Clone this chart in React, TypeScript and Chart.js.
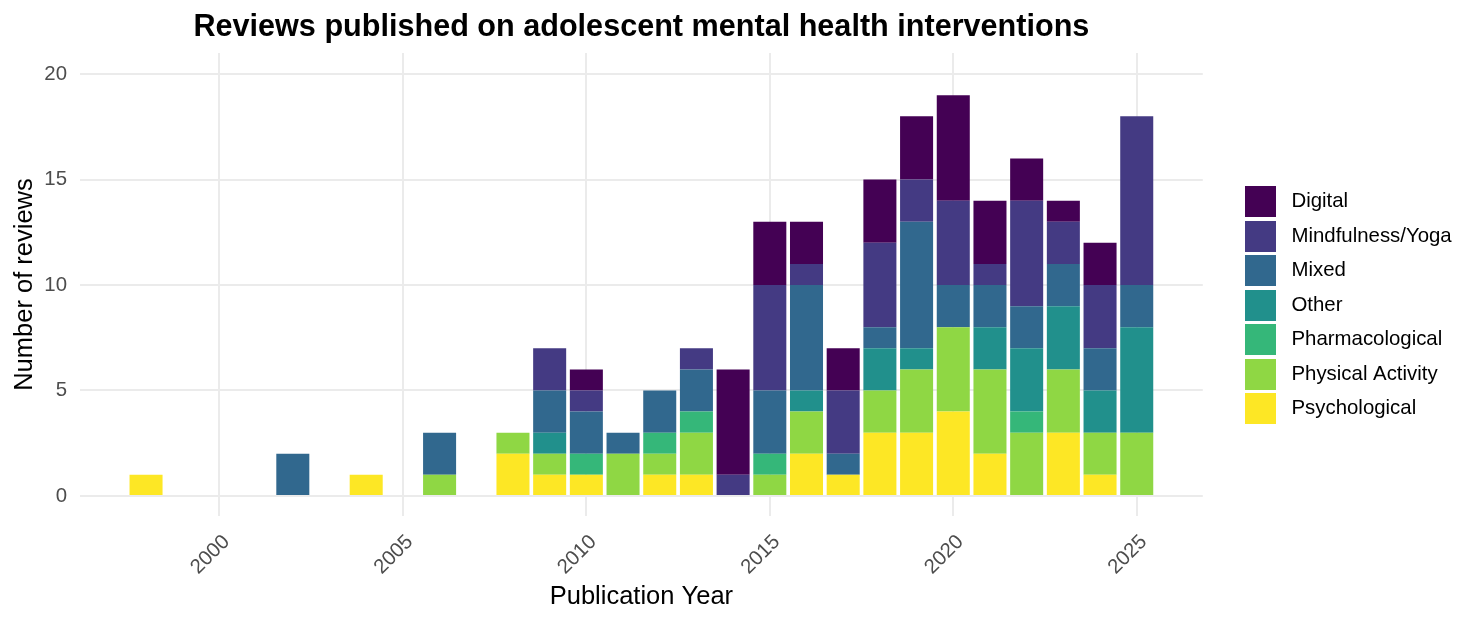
import React, { useEffect, useRef } from "react";
import { Chart, registerables } from "chart.js";

Chart.register(...registerables);

const YEARS = [1998, 2002, 2004, 2006, 2008, 2009, 2010, 2011, 2012, 2013, 2014, 2015, 2016, 2017, 2018, 2019, 2020, 2021, 2022, 2023, 2024, 2025];

const PSYCHOLOGICAL = [1, 0, 1, 0, 2, 1, 1, 0, 1, 1, 0, 0, 2, 1, 3, 3, 4, 2, 0, 3, 1, 0];
const PHYSICAL_ACTIVITY = [0, 0, 0, 1, 1, 1, 0, 2, 1, 2, 0, 1, 2, 0, 2, 3, 4, 4, 3, 3, 2, 3];
const PHARMACOLOGICAL = [0, 0, 0, 0, 0, 0, 1, 0, 1, 1, 0, 1, 0, 0, 0, 0, 0, 0, 1, 0, 0, 0];
const OTHER = [0, 0, 0, 0, 0, 1, 0, 0, 0, 0, 0, 0, 1, 0, 2, 1, 0, 2, 3, 3, 2, 5];
const MIXED = [0, 2, 0, 2, 0, 2, 2, 1, 2, 2, 0, 3, 5, 1, 1, 6, 2, 2, 2, 2, 2, 2];
const MINDFULNESS_YOGA = [0, 0, 0, 0, 0, 2, 1, 0, 0, 1, 1, 5, 1, 3, 4, 2, 4, 1, 5, 2, 3, 8];
const DIGITAL = [0, 0, 0, 0, 0, 0, 1, 0, 0, 0, 5, 3, 2, 2, 3, 3, 5, 3, 2, 1, 2, 0];

const SERIES_NAMES = ["Psychological", "Physical Activity", "Pharmacological", "Other", "Mixed", "Mindfulness/Yoga", "Digital"];
const SERIES_VALUES = [PSYCHOLOGICAL, PHYSICAL_ACTIVITY, PHARMACOLOGICAL, OTHER, MIXED, MINDFULNESS_YOGA, DIGITAL];
const SERIES_COLORS = ["#FDE725", "#8FD744", "#35B779", "#21908C", "#31688E", "#443A83", "#440154"];

const X_TICKS = [2000, 2005, 2010, 2015, 2020, 2025];
const Y_TICKS = [0, 5, 10, 15, 20];

const TITLE = "Reviews published on adolescent mental health interventions";
const X_TITLE = "Publication Year";
const Y_TITLE = "Number of reviews";

const FONT = "'Liberation Sans', Arial, sans-serif";

function makeKey(color: string): HTMLCanvasElement {
  const c = document.createElement("canvas");
  c.width = 31;
  c.height = 31;
  const ctx = c.getContext("2d");
  if (ctx) {
    ctx.fillStyle = color;
    ctx.fillRect(0, 0, 31, 31);
  }
  return c;
}

export default function App() {
  const canvasRef = useRef<HTMLCanvasElement | null>(null);

  useEffect(() => {
    if (!canvasRef.current) return;
    const keys = SERIES_COLORS.map(makeKey);
    const datasets = SERIES_NAMES.map((name, i) => ({
      label: name,
      data: YEARS.map((yr, j) => ({ x: yr, y: SERIES_VALUES[i][j] === 0 ? null : SERIES_VALUES[i][j] })),
      backgroundColor: SERIES_COLORS[i],
      borderWidth: 0,
      barPercentage: 0.9,
      categoryPercentage: 1,
    }));

    const chart = new Chart(canvasRef.current, {
      type: "bar",
      data: { datasets: datasets as any },
      options: {
        animation: false,
        responsive: true,
        maintainAspectRatio: false,
        layout: { padding: { left: 0, right: 20.3, top: 0, bottom: 12 } },
        plugins: {
          tooltip: { enabled: false },
          title: {
            display: true,
            text: TITLE,
            fullSize: false,
            color: "#000000",
            font: { family: FONT, size: 30.6, weight: "bold" },
            padding: { top: 9, bottom: 7.3 },
          },
          legend: {
            display: true,
            position: "right",
            reverse: true,
            labels: {
              usePointStyle: true,
              pointStyleWidth: 42,
              padding: 14.1,
              color: "#000000",
              font: { family: FONT, size: 20.4 },
              generateLabels: (ch: any) => {
                const items = Chart.defaults.plugins.legend.labels.generateLabels(ch);
                items.forEach((it: any) => {
                  it.pointStyle = keys[it.datasetIndex];
                  it.lineWidth = 0;
                });
                return items;
              },
            },
          },
        },
        scales: {
          x: {
            type: "linear",
            stacked: true,
            min: 1996.2,
            max: 2026.8,
            offset: false,
            afterBuildTicks: (s: any) => {
              s.ticks = X_TICKS.map((v) => ({ value: v }));
            },
            afterFit: (s: any) => {
              s.height = 94;
            },
            ticks: {
              autoSkip: false,
              maxRotation: 45,
              minRotation: 45,
              padding: 14,
              labelOffset: 7,
              color: "#4D4D4D",
              font: { family: FONT, size: 20.4 },
              callback: (v: any) => String(v),
            },
            grid: { color: "#EBEBEB", lineWidth: 2, drawTicks: false, offset: false },
            border: { display: false },
            title: {
              display: true,
              text: X_TITLE,
              color: "#000000",
              font: { family: FONT, size: 25.5 },
              padding: { top: 0, bottom: -2 },
            },
          },
          y: {
            type: "linear",
            stacked: true,
            min: -0.95,
            max: 21.0,
            afterBuildTicks: (s: any) => {
              s.ticks = Y_TICKS.map((v) => ({ value: v }));
            },
            afterFit: (s: any) => {
              s.width = 80;
            },
            ticks: {
              padding: 13,
              color: "#4D4D4D",
              font: { family: FONT, size: 20.4 },
            },
            grid: { color: "#EBEBEB", lineWidth: 2, drawTicks: false },
            border: { display: false },
            title: {
              display: true,
              text: Y_TITLE,
              color: "#000000",
              font: { family: FONT, size: 25.5 },
              padding: { top: 10, bottom: 0 },
            },
          },
          gap: {
            type: "linear",
            position: "right",
            display: true,
            afterFit: (s: any) => {
              s.width = 22.4;
            },
            ticks: { display: false },
            grid: { display: false, drawTicks: false },
            border: { display: false },
          },
        },
      } as any,
    });
    return () => chart.destroy();
  }, []);

  return (
    <div style={{ position: "fixed", left: 0, top: 0, width: 1482, height: 622, background: "#ffffff" }}>
      <canvas ref={canvasRef} />
    </div>
  );
}
